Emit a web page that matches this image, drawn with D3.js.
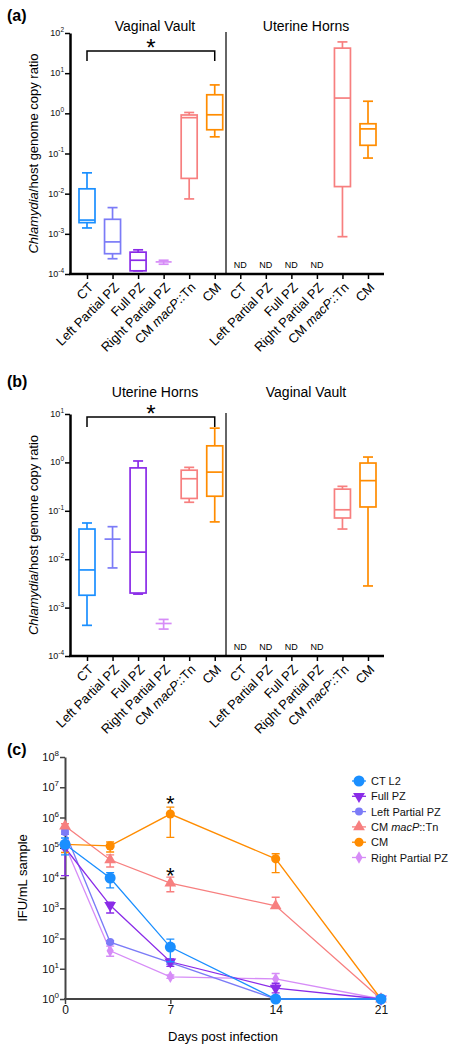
<!DOCTYPE html>
<html><head><meta charset="utf-8">
<script src="https://cdn.jsdelivr.net/npm/d3@7"></script>
<style>body{margin:0;background:#fff} svg{font-family:Arial,"Liberation Sans",sans-serif}</style>
</head><body><svg id="c" width="450" height="1050"></svg>
<script>
// ---------- DATA ----------
const categories = ["CT","Left Partial PZ","Full PZ","Right Partial PZ","CM macP::Tn","CM"];
const catColors = ["#1a8fff","#7b7bf7","#8a2be8","#d68cf7","#f77f7f","#ff8c00"];
// box stats: [min, q1, median, q3, max]; null = ND
const aVaginal = [[0.0014,0.0019,0.0022,0.0132,0.033],[2.4e-4,3.2e-4,6.3e-4,0.0023,0.0045],[1.2e-4,1.2e-4,2.2e-4,3.5e-4,4e-4],[1.75e-4,2.0e-4,2.0e-4,2.0e-4,2.2e-4],[0.0074,0.024,0.78,0.91,1.05],[0.26,0.39,0.92,2.9,5.1]];
const aUterine = [null,null,null,null,[8.5e-4,0.015,2.4,42,60],[0.077,0.16,0.41,0.55,2.0]];
const bUterine = [[4.3e-4,0.0018,0.006,0.042,0.056],[0.0066,0.026,0.026,0.026,0.047],[0.0019,0.002,0.014,0.77,1.07],[3.6e-4,4.7e-4,4.7e-4,4.7e-4,5.7e-4],[0.15,0.18,0.46,0.69,0.79],[0.059,0.2,0.63,2.2,5.1]];
const bVaginal = [null,null,null,null,[0.042,0.071,0.105,0.28,0.32],[0.0028,0.12,0.42,0.97,1.29]];
const aTicks = [1e-4,1e-3,1e-2,1e-1,1,10,100];
const bTicks = [1e-4,1e-3,1e-2,1e-1,1,10];

const days = [0,3,7,14,21];
const dayTicks = [0,7,14,21];
const cTicks = [1,10,100,1e3,1e4,1e5,1e6,1e7,1e8];
const seriesNames = ["CT L2","Full PZ","Left Partial PZ","CM macP::Tn","CM","Right Partial PZ"];
const seriesColors = ["#1a8fff","#8a2be8","#7b7bf7","#f77f7f","#ff8c00","#d68cf7"];
const seriesSymbols = ["circleL","triDown","circleS","triUp","circleM","diamond"];
const ctL2 = [1.3e5, 1.0e4, 52, 1, 1];
const ctL2Hi = [2.1e5, 1.5e4, 95, 1, 1];
const ctL2Lo = [5.8e4, 4.7e3, 17, 1, 1];
const fullPZ = [1.0e5, 1.25e3, 17, 2.3, 1];
const fullPZHi = [1.6e5, 1.6e3, 21, 3.3, 1];
const fullPZLo = [1.2e4, 7.0e2, 12, 1.6, 1];
const leftPZ = [3.3e5, 76, 16, 1, 1];
const leftPZHi = [3.9e5, 85, 19, 1, 1];
const leftPZLo = [2.8e5, 68, 14, 1, 1];
const macP = [5.2e5, 4.0e4, 6.8e3, 1.2e3, 1];
const macPHi = [6.2e5, 5.8e4, 1.07e4, 2.3e3, 1];
const macPLo = [4.4e5, 2.3e4, 3.5e3, 1.0e3, 1];
const cm = [1.3e5, 1.15e5, 1.3e6, 4.3e4, 1];
const cmHi = [1.6e5, 1.55e5, 2.2e6, 6.3e4, 1];
const cmLo = [7.0e4, 7.2e4, 2.2e5, 1.5e4, 1];
const rightPZ = [1.2e5, 39, 5.4, 4.6, 1];
const rightPZHi = [1.5e5, 56, 6.2, 7.0, 1];
const rightPZLo = [0.9e5, 26, 4.8, 3.0, 1];

// ---------- DRAW ----------
const svg = d3.select("#c");

function catLabel(sel, name){
  if(name === "CM macP::Tn"){
    sel.append("tspan").text("CM ");
    sel.append("tspan").attr("font-style","italic").text("macP");
    sel.append("tspan").text("::Tn");
  } else sel.text(name);
}
function powLabel(g, x, y, v, fs, sfs){
  const e = Math.round(Math.log10(v));
  const t = g.append("text").attr("x",x).attr("y",y).attr("text-anchor","end")
    .attr("font-size",fs).attr("fill","#111");
  t.append("tspan").text("10");
  t.append("tspan").attr("dy",-fs*0.45).attr("font-size",sfs).text(String(e));
}
function star(g, cx, cy, fs){
  g.append("text").attr("x",cx).attr("y",cy+0.56*fs).attr("text-anchor","middle")
    .attr("font-size",fs).text("*");
}

function boxPanel(o){
  const g = svg.append("g");
  const keys = [];
  o.regions.forEach((r,ri)=>categories.forEach((c,ci)=>keys.push(ri+"-"+ci)));
  const x = d3.scalePoint().domain(keys).range([87,368]);
  const y = d3.scaleLog().domain(o.domain).range([o.bottom,o.top]);
  g.append("text").attr("x",7).attr("y",o.letterY).attr("font-size",16).attr("font-weight","bold").text(o.letter);
  o.regions.forEach((r,ri)=>{
    g.append("text").attr("x",ri===0?155:306).attr("y",o.titleY).attr("text-anchor","middle")
      .attr("font-size",14).text(r.title);
  });
  g.append("line").attr("x1",226).attr("x2",226).attr("y1",o.top-1).attr("y2",o.bottom)
    .attr("stroke","#333").attr("stroke-width",1.5);
  const ya = g.append("g").attr("transform","translate(70,0)")
    .call(d3.axisLeft(y).tickValues(o.ticks).tickFormat("").tickSize(5).tickSizeOuter(0));
  ya.select(".domain").attr("stroke","#000").attr("stroke-width",2.5);
  ya.selectAll(".tick line").attr("stroke","#000").attr("stroke-width",1.5);
  o.ticks.forEach(v=>powLabel(g,64,y(v)+3,v,9,6.5));
  const xa = g.append("g").attr("transform",`translate(0,${o.bottom})`)
    .call(d3.axisBottom(x).tickFormat("").tickSize(5).tickSizeOuter(0));
  xa.select(".domain").attr("d",`M69,0H384`).attr("stroke","#000").attr("stroke-width",2.5);
  xa.selectAll(".tick line").attr("stroke","#000").attr("stroke-width",1.5);
  keys.forEach(k=>{
    const ci = +k.split("-")[1];
    const t = g.append("text").attr("font-size",13).attr("text-anchor","end")
      .attr("transform",`translate(${x(k)+4},${o.bottom+11}) rotate(-45)`).attr("dy","0.35em");
    catLabel(t, categories[ci]);
  });
  const yl = g.append("text").attr("transform",`translate(38,${(o.top+o.bottom)/2}) rotate(-90)`)
    .attr("text-anchor","middle").attr("font-size",13);
  yl.append("tspan").attr("font-style","italic").text("Chlamydia");
  yl.append("tspan").text("/host genome copy ratio");
  o.regions.forEach((r,ri)=>{
    r.data.forEach((d,ci)=>{
      const cx = x(ri+"-"+ci);
      if(d===null){
        g.append("text").attr("x",cx).attr("y",o.bottom-6).attr("text-anchor","middle")
          .attr("font-size",9).text("ND");
        return;
      }
      const col = catColors[ci];
      const bg = g.append("g").attr("stroke",col).attr("stroke-width",1.7).attr("fill","none");
      const [mn,q1,md,q3,mx] = d;
      bg.append("line").attr("x1",cx).attr("x2",cx).attr("y1",y(mx)).attr("y2",y(q3));
      bg.append("line").attr("x1",cx).attr("x2",cx).attr("y1",y(q1)).attr("y2",y(mn));
      bg.append("line").attr("x1",cx-5).attr("x2",cx+5).attr("y1",y(mx)).attr("y2",y(mx));
      bg.append("line").attr("x1",cx-5).attr("x2",cx+5).attr("y1",y(mn)).attr("y2",y(mn));
      bg.append("rect").attr("x",cx-8).attr("width",16).attr("y",y(q3)).attr("height",Math.max(0,y(q1)-y(q3)));
      bg.append("line").attr("x1",cx-8).attr("x2",cx+8).attr("y1",y(md)).attr("y2",y(md));
    });
  });
  const x0 = x("0-0"), x1 = x("0-5");
  g.append("path").attr("d",`M${x0},${o.brY+10}V${o.brY}H${x1}V${o.brY+10}`)
    .attr("fill","none").attr("stroke","#000").attr("stroke-width",1.5);
  star(g,(x0+x1)/2,o.brY-8,24);
}

boxPanel({letter:"(a)",letterY:21,titleY:31,top:33,bottom:274,domain:[1e-4,1e2],ticks:aTicks,brY:51,
  regions:[{title:"Vaginal Vault",data:aVaginal},{title:"Uterine Horns",data:aUterine}]});
boxPanel({letter:"(b)",letterY:387,titleY:397,top:414,bottom:656,domain:[1e-4,1e1],ticks:bTicks,brY:417,
  regions:[{title:"Uterine Horns",data:bUterine},{title:"Vaginal Vault",data:bVaginal}]});

// ---------- Panel (c) ----------
(function(){
  const g = svg.append("g");
  const x = d3.scaleLinear().domain([0,21]).range([65,381]);
  const y = d3.scaleLog().domain([1,1e8]).range([999,757]);
  g.append("text").attr("x",7).attr("y",755).attr("font-size",16).attr("font-weight","bold").text("(c)");
  const ya = g.append("g").attr("transform","translate(65,0)")
    .call(d3.axisLeft(y).tickValues(cTicks).tickFormat("").tickSize(5).tickSizeOuter(0));
  ya.select(".domain").attr("stroke","#444").attr("stroke-width",2);
  ya.selectAll(".tick line").attr("stroke","#444").attr("stroke-width",1.5);
  cTicks.forEach(v=>powLabel(g,59,y(v)+4,v,11,8));
  const xa = g.append("g").attr("transform","translate(0,999)")
    .call(d3.axisBottom(x).tickValues(dayTicks).tickSize(5).tickSizeOuter(0));
  xa.select(".domain").attr("d","M64,0H384").attr("stroke","#444").attr("stroke-width",2);
  xa.selectAll(".tick line").attr("stroke","#444").attr("stroke-width",1.5);
  xa.selectAll(".tick text").attr("font-size",12).attr("font-family","Arial, Liberation Sans, sans-serif").attr("fill","#111").attr("dy","0.6em");
  g.append("text").attr("x",223).attr("y",1041).attr("text-anchor","middle").attr("font-size",13).text("Days post infection");
  g.append("text").attr("transform","translate(27,878) rotate(-90)").attr("text-anchor","middle")
    .attr("font-size",13).text("IFU/mL sample");

  const series = [
    {v:ctL2,hi:ctL2Hi,lo:ctL2Lo},
    {v:fullPZ,hi:fullPZHi,lo:fullPZLo},
    {v:leftPZ,hi:leftPZHi,lo:leftPZLo},
    {v:macP,hi:macPHi,lo:macPLo},
    {v:cm,hi:cmHi,lo:cmLo},
    {v:rightPZ,hi:rightPZHi,lo:rightPZLo}
  ];
  function symbolPath(s){
    switch(s){
      case "circleL": return d3.symbol(d3.symbolCircle,95)();
      case "circleM": return d3.symbol(d3.symbolCircle,65)();
      case "circleS": return d3.symbol(d3.symbolCircle,50)();
      case "triUp": return d3.symbol(d3.symbolTriangle,60)();
      case "triDown": return d3.symbol(d3.symbolTriangle,60)();
      case "diamond": return d3.symbol(d3.symbolDiamond,45)();
    }
  }
  const line = d3.line().x(d=>x(d[0])).y(d=>y(d[1]));
  const order = [5,2,1,3,4,0];
  order.forEach(i=>{
    const s = series[i], col = seriesColors[i];
    const sg = g.append("g");
    sg.append("path").attr("d",line(days.map((d,j)=>[d,s.v[j]]))).attr("fill","none")
      .attr("stroke",col).attr("stroke-width",1.3);
    days.forEach((d,j)=>{
      if(s.hi[j]===s.lo[j]) return;
      const cx = x(d);
      sg.append("path").attr("d",`M${cx},${y(s.hi[j])}V${y(s.lo[j])}M${cx-4},${y(s.hi[j])}H${cx+4}M${cx-4},${y(s.lo[j])}H${cx+4}`)
        .attr("stroke",col).attr("stroke-width",1.4).attr("fill","none");
    });
    days.forEach((d,j)=>{
      const rot = seriesSymbols[i]==="triDown" ? " rotate(180)" : "";
      sg.append("path").attr("d",symbolPath(seriesSymbols[i]))
        .attr("transform",`translate(${x(d)},${y(s.v[j])})${rot}`).attr("fill",col);
    });
  });
  star(g,x(7),y(cmHi[2])-8,22);
  star(g,x(7),y(macPHi[2])-6,22);

  seriesNames.forEach((n,i)=>{
    const ly = 781 + i*15.3;
    const col = seriesColors[i];
    g.append("line").attr("x1",352).attr("x2",366).attr("y1",ly).attr("y2",ly).attr("stroke",col).attr("stroke-width",1.3);
    const rot = seriesSymbols[i]==="triDown" ? " rotate(180)" : "";
    g.append("path").attr("d",symbolPath(seriesSymbols[i])).attr("transform",`translate(359,${ly})${rot}`).attr("fill",col);
    const t = g.append("text").attr("x",371).attr("y",ly+4).attr("font-size",11).attr("fill","#111");
    catLabel(t,n);
  });
})();
</script></body></html>
